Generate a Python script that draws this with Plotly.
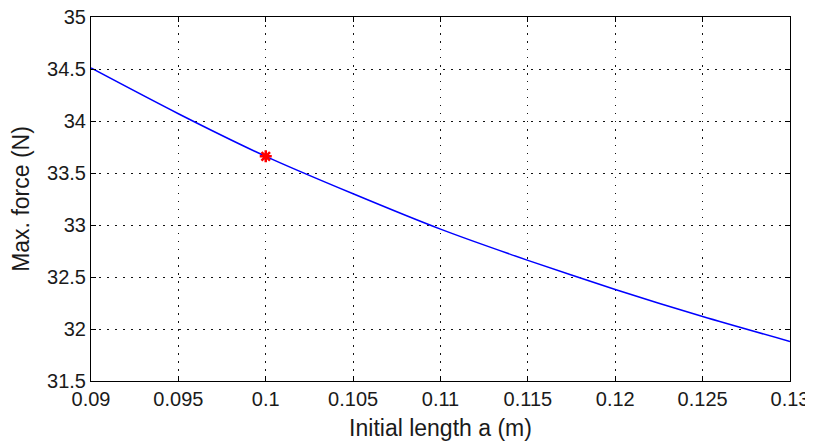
import plotly.graph_objects as go

# Data
a_vals = [0.09, 0.095, 0.1, 0.105, 0.11, 0.115, 0.12, 0.125, 0.13]
force_vals = [34.51, 34.07, 33.66, 33.30, 32.96, 32.66, 32.38, 32.12, 31.88]
marker_a = [0.1]
marker_force = [33.66]

x_ticks = [0.09, 0.095, 0.1, 0.105, 0.11, 0.115, 0.12, 0.125, 0.13]
x_ticktext = ["0.09", "0.095", "0.1", "0.105", "0.11", "0.115", "0.12", "0.125", "0.13"]
y_ticks = [31.5, 32, 32.5, 33, 33.5, 34, 34.5, 35]
y_ticktext = ["31.5", "32", "32.5", "33", "33.5", "34", "34.5", "35"]

fig = go.Figure()
fig.add_trace(go.Scatter(
    x=a_vals, y=force_vals, mode="lines",
    line=dict(color="#0000FF", width=1.5, shape="spline", smoothing=0.8),
    showlegend=False, hoverinfo="skip",
))
fig.add_trace(go.Scatter(
    x=marker_a, y=marker_force, mode="markers",
    marker=dict(symbol="asterisk-open", size=10, color="#FF0000",
                line=dict(color="#FF0000", width=2.5)),
    showlegend=False,
))

font_family = "Liberation Sans, Arial, sans-serif"
axis_common = dict(
    showline=True, linecolor="black", linewidth=1, mirror="ticks",
    ticks="inside", ticklen=5, tickcolor="black", tickwidth=1,
    showgrid=True, gridcolor="#111111", gridwidth=1, griddash="1.5px,6.5px",
    zeroline=False, automargin=False, ticklabeloverflow="allow",
    tickfont=dict(family=font_family, size=20, color="#1a1a1a"),
)

# The page places the figure 8px from the top-left corner (body margin),
# so the figure is sized and its margins set to compensate.
fig.update_layout(
    width=805, height=440,
    margin=dict(l=83, r=23, t=9, b=67, pad=0),
    paper_bgcolor="white", plot_bgcolor="white",
    font=dict(family=font_family, color="#1a1a1a"),
    xaxis=dict(
        range=[0.09, 0.13], tickvals=x_ticks, ticktext=x_ticktext,
        ticklabelstandoff=0,
        title=dict(text="Initial length a (m)", font=dict(size=23), standoff=10),
        **axis_common,
    ),
    yaxis=dict(
        range=[31.5, 35], tickvals=y_ticks, ticktext=y_ticktext,
        ticklabelstandoff=0,
        title=dict(text="Max. force (N)", font=dict(size=23), standoff=11),
        **axis_common,
    ),
)

fig.write_html("out.html")
